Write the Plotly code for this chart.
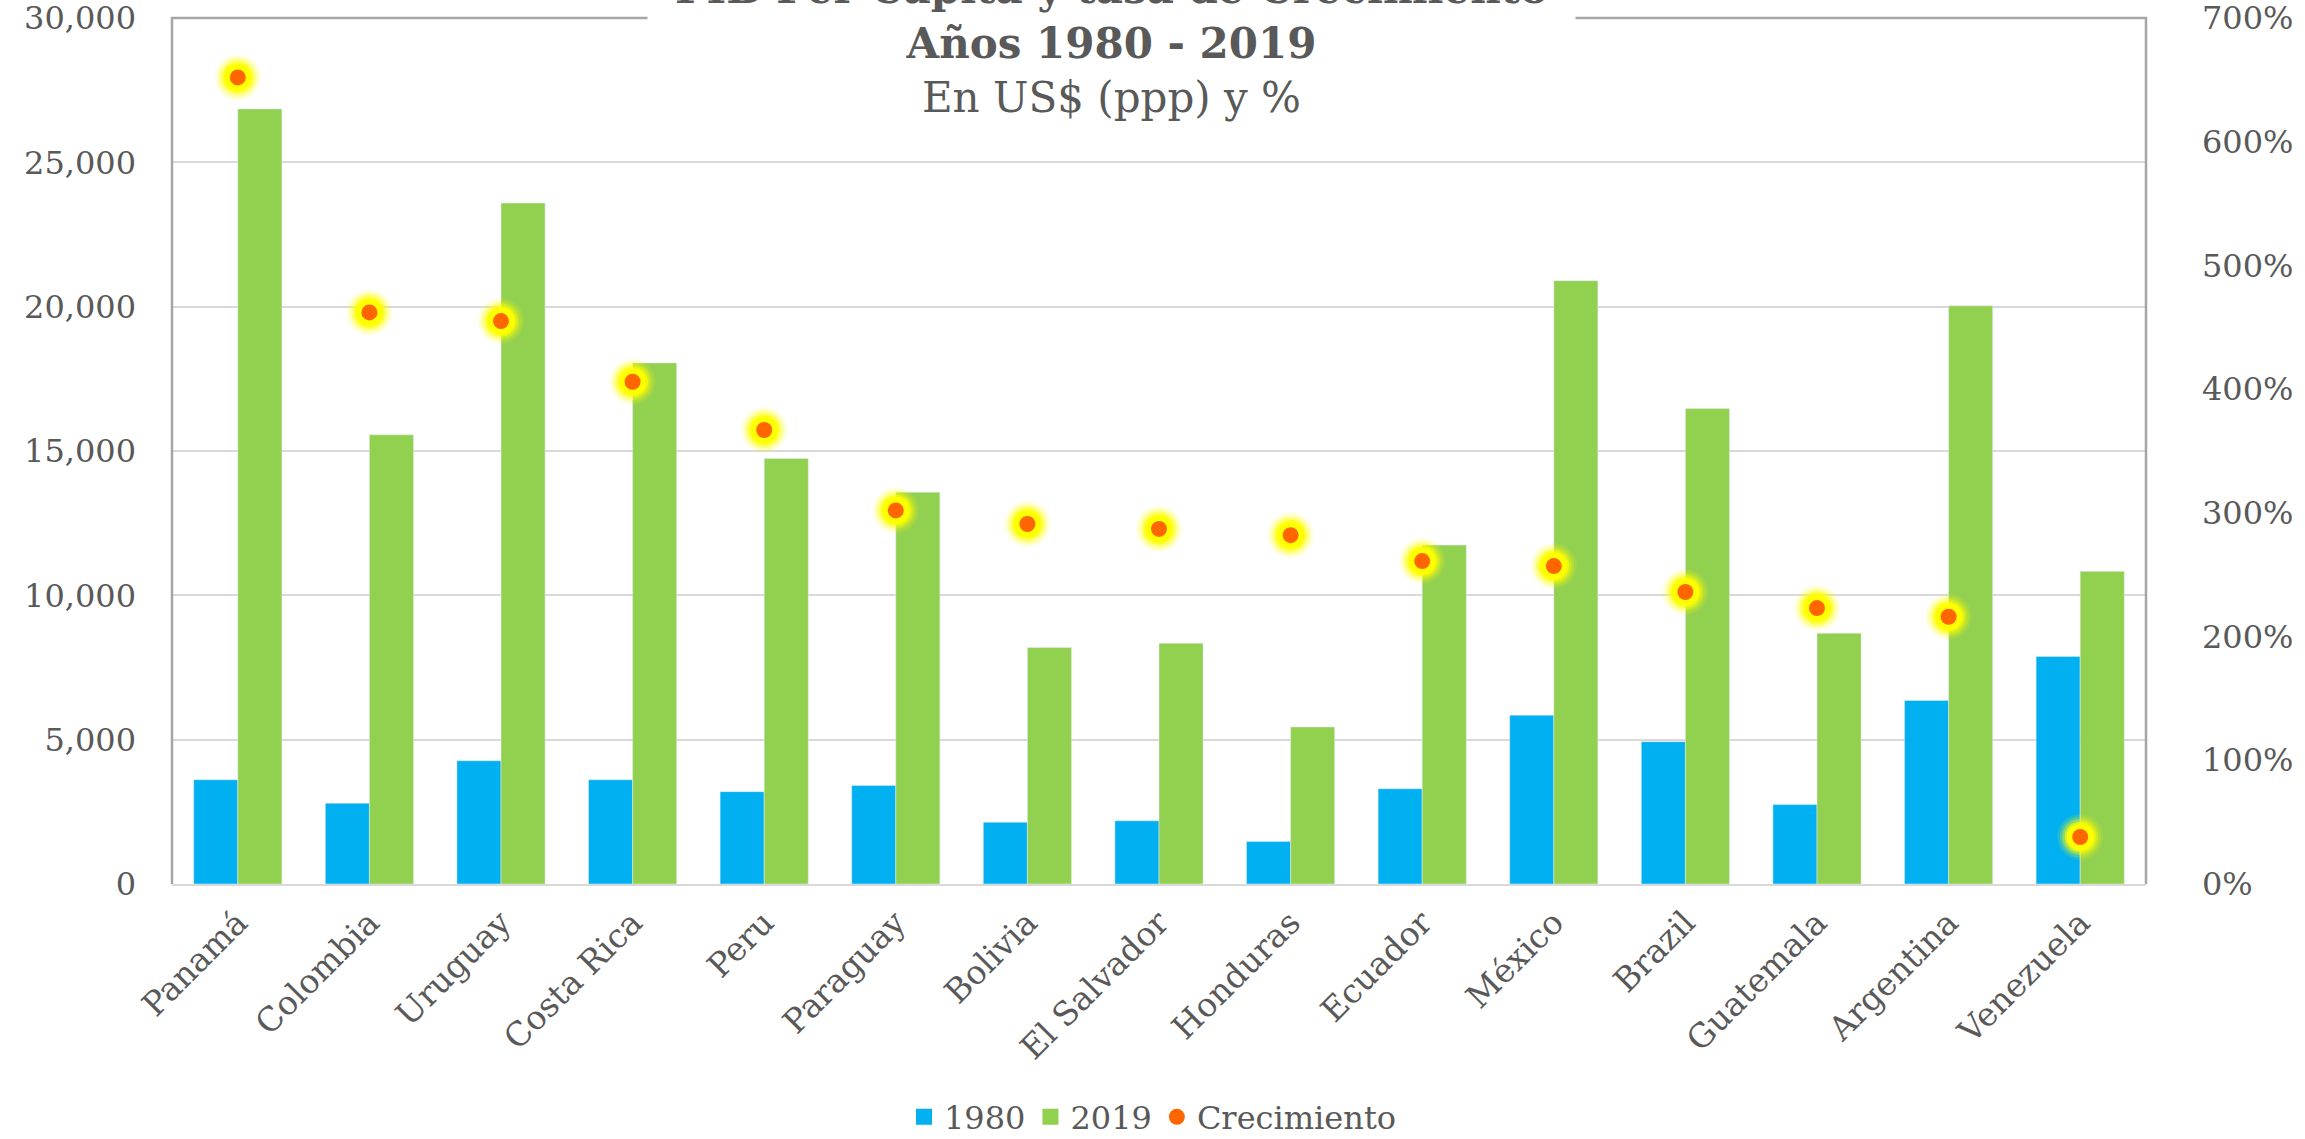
import plotly.graph_objects as go

paises = ["Panamá", "Colombia", "Uruguay", "Costa Rica", "Peru", "Paraguay", "Bolivia",
          "El Salvador", "Honduras", "Ecuador", "México", "Brazil", "Guatemala",
          "Argentina", "Venezuela"]
pib_1980 = [3610, 2800, 4270, 3610, 3200, 3410, 2140, 2190, 1470, 3300, 5850, 4930, 2750, 6360, 7880]
pib_2019 = [26850, 15560, 23590, 18050, 14740, 13570, 8190, 8340, 5440, 11740, 20900, 16470, 8690, 20030, 10830]
crecimiento = [652, 462, 455, 406, 367, 302, 291, 287, 282, 261, 257, 236, 223, 216, 38]

left_ticks = [0, 5000, 10000, 15000, 20000, 25000, 30000]
right_ticks = [0, 100, 200, 300, 400, 500, 600, 700]

FONT = "DejaVu Serif"
GREY = "#595959"
BLUE = "#00B0F0"
GREEN = "#92D050"
ORANGE = "#FF6600"

fig = go.Figure()
fig.add_trace(go.Bar(x=paises, y=pib_1980, name="1980", marker_color=BLUE, showlegend=False))
fig.add_trace(go.Bar(x=paises, y=pib_2019, name="2019", marker_color=GREEN, showlegend=False))

# glow layers
for size, alpha in [(46, 0.12), (41, 0.2), (36, 0.35), (31, 0.6), (27, 1.0)]:
    fig.add_trace(go.Scatter(x=paises, y=crecimiento, yaxis="y2", mode="markers",
                             marker=dict(size=size, color=f"rgba(255,255,0,{alpha})", line_width=0),
                             showlegend=False, hoverinfo="skip"))
fig.add_trace(go.Scatter(x=paises, y=crecimiento, yaxis="y2", mode="markers", name="Crecimiento",
                         marker=dict(size=16, color=ORANGE, line_width=0), showlegend=False))

# legend entries (larger square keys like the original)
for nm, col, sym, sz in [("1980", BLUE, "square", 22), ("2019", GREEN, "square", 22),
                         ("Crecimiento", ORANGE, "circle", 16)]:
    fig.add_trace(go.Scatter(x=[None], y=[None], mode="markers", name=nm,
                             marker=dict(symbol=sym, size=sz, color=col, line_width=0)))

fig.update_layout(
    width=2305, height=1139,
    margin=dict(l=172, r=159, t=18, b=255, autoexpand=False),
    paper_bgcolor="white", plot_bgcolor="white",
    barmode="group", bargap=0.33, bargroupgap=0,
    font=dict(family=FONT, color=GREY, size=32),
    xaxis=dict(range=[-0.5, len(paises) - 0.5], tickangle=-45, showline=True,
               linecolor="#D9D9D9", linewidth=2, automargin=False,
               tickfont=dict(size=33, color=GREY), ticks="", ticklabelstandoff=4),
    yaxis=dict(range=[0, 30000], tickvals=left_ticks, ticktext=[f"{v:,}" for v in left_ticks],
               showgrid=True, gridcolor="#D9D9D9", gridwidth=2, zeroline=False, automargin=False,
               tickfont=dict(size=32, color=GREY), ticks="", ticklabelstandoff=35,
               ticklabeloverflow="allow"),
    yaxis2=dict(range=[0, 700], tickvals=right_ticks, ticktext=[f"{v}%" for v in right_ticks],
                overlaying="y", side="right", automargin=False,
                showgrid=False, zeroline=False, tickfont=dict(size=32, color=GREY),
                ticks="", ticklabelstandoff=55, ticklabeloverflow="allow"),
    legend=dict(orientation="h", x=0.5, xanchor="center", xref="container",
                y=0.0193, yanchor="middle", yref="container",
                font=dict(size=32, color=GREY), itemsizing="trace", traceorder="normal"),
    shapes=[dict(type="path", xref="paper", yref="paper", path="M 0,0 L 0,1 L 1,1 L 1,0",
                 line=dict(color="#A6A6A6", width=2.5), layer="above")],
    annotations=[dict(
        text="<b>PIB Per Capita y tasa de Crecimiento</b><br><b>Años 1980 - 2019</b><br>En US$ (ppp) y %",
        xref="paper", yref="paper", x=0.476, y=0.874, xanchor="center", yanchor="bottom",
        showarrow=False, align="center", bgcolor="white", width=919, borderpad=4,
        font=dict(family=FONT, size=42, color=GREY))],
)

fig.write_html("out.html", config={"displayModeBar": False},
               post_script="document.body.style.margin='0';")
